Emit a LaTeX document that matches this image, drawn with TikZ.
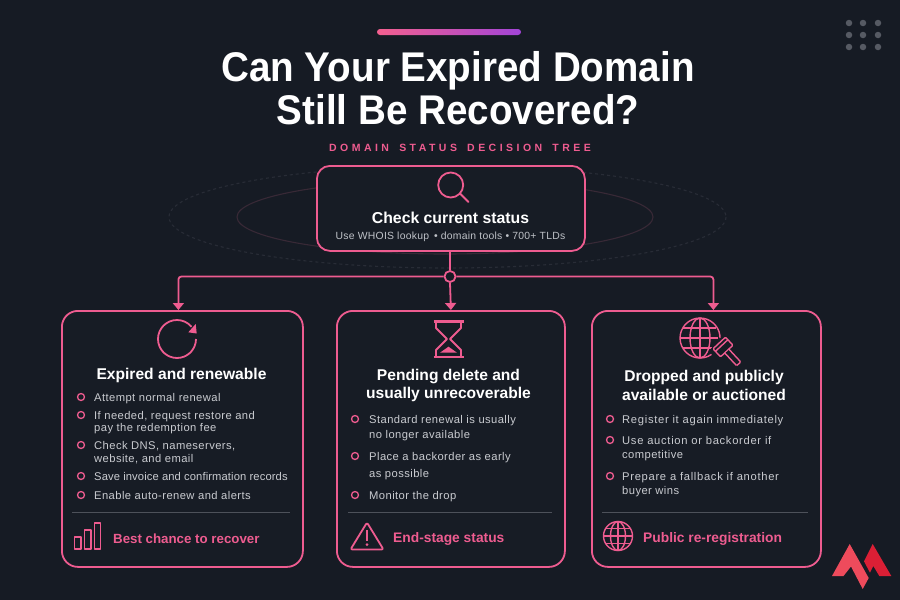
\documentclass[tikz,border=0pt]{standalone}
\usepackage{fontspec}
\usetikzlibrary{arrows.meta,calc,shapes.geometric}
\setmainfont{Liberation Sans}
\newfontfamily\titlef[FakeStretch=0.93]{Liberation Sans}
\newfontfamily\bodyf[LetterSpace=3.8]{Liberation Sans}
\newfontfamily\bodyr[LetterSpace=6.2]{Liberation Sans}
\newfontfamily\bodys[LetterSpace=1]{Liberation Sans}
\newfontfamily\topf[LetterSpace=2.5]{Liberation Sans}
\newfontfamily\subf[LetterSpace=33,WordSpace=1.6]{Liberation Sans}
\definecolor{bgc}{HTML}{161B24}
\definecolor{cardc}{HTML}{171C25}
\definecolor{pinkc}{HTML}{EE5C90}
\definecolor{bodyc}{HTML}{C9CBD0}
\definecolor{subc}{HTML}{BFC2C8}
\definecolor{divc}{HTML}{4D515A}
\definecolor{dotc}{HTML}{565A63}
\definecolor{ringa}{HTML}{282C36}
\definecolor{ringb}{HTML}{382936}
\definecolor{logoa}{HTML}{EE4B5C}
\definecolor{logob}{HTML}{DB1F35}
\definecolor{barl}{HTML}{F4608F}
\definecolor{barr}{HTML}{A244D8}
\newcommand{\st}{\rule{0pt}{9pt}}
\tikzset{
  x=1pt,y=-1pt,
  card/.style={draw=pinkc,line width=1.8pt,fill=cardc,rounded corners=16pt,inner sep=0,anchor=north west},
  conn/.style={draw=pinkc,line width=1.8pt},
  arr/.style={conn,-{Triangle[width=11pt,length=7pt]}},
  ico/.style={draw=pinkc,line width=1.8pt,line join=round},
  head/.style={text=white,inner sep=0,align=center,font=\bfseries\fontsize{15.6}{18.5}\selectfont},
  foot/.style={text=pinkc,inner sep=0,anchor=west,font=\bfseries\fontsize{#1}{15}\selectfont},
  bul/.style={circle,draw=pinkc,line width=1.3pt,minimum size=7pt,inner sep=0},
  bt/.style={anchor=north west,inner sep=0,align=left,text=bodyc,font=\bodyf\fontsize{11.2}{#1}\selectfont},
  divl/.style={draw=divc,line width=0.9pt},
}
\begin{document}
\begin{tikzpicture}
\useasboundingbox (0,0) rectangle (900,600);
\fill[bgc] (0,0) rectangle (900,600);
% header
\node[rounded corners=3pt,left color=barl,right color=barr,minimum width=144pt,minimum height=6pt,inner sep=0] (bar) at (449,32) {};
\foreach \dx/\nx in {849/a,863/b,878/c}\foreach \dy/\ny in {23/a,35/b,47/c}{
  \node[circle,fill=dotc,minimum size=6.5pt,inner sep=0] (dot\nx\ny) at (\dx,\dy) {};
}
\node[anchor=north,inner sep=0,align=center,text=white,font=\titlef\bfseries\fontsize{41.5}{43}\selectfont] (title) at (458,51.5) {\rule{0pt}{30pt}Can Your Expired Domain\\Still Be Recovered?};
\node[text=pinkc,inner sep=0,font=\subf\bfseries\fontsize{10.5}{12}\selectfont] (sub) at (460,147.5) {DOMAIN STATUS DECISION TREE};
% rings
\draw[ringa,line width=1.1pt,dash pattern=on 3pt off 3pt] (447.5,217) ellipse [x radius=278.5,y radius=51];
\draw[ringb,line width=1.1pt] (445,217) ellipse [x radius=208,y radius=37];
% top node
\node[card,rounded corners=13pt,minimum width=268pt,minimum height=85pt] (top) at (316,165) {};
\draw[ico] (450.7,185) circle (12.5);
\draw[ico,line cap=round] (460,193.5) -- (468.5,202);
\node[text=white,inner sep=0,font=\bfseries\fontsize{15.8}{18}\selectfont] (toph) at (450.5,217.5) {Check current status};
\node[text=subc,inner sep=0,font=\topf\fontsize{10.4}{13}\selectfont] (tops) at (450.5,236.5) {Use WHOIS lookup\, • domain tools • 700+ TLDs};
% cards
\node[card,minimum width=241pt,minimum height=256pt] (c1) at (61,310) {};
\node[card,minimum width=228pt,minimum height=256pt] (c2) at (336,310) {};
\node[card,minimum width=229pt,minimum height=256pt] (c3) at (591,310) {};
% connectors
\node[circle,draw=pinkc,line width=1.8pt,fill=bgc,minimum size=11pt,inner sep=0] (jn) at (450,276.5) {};
\draw[conn] (top.south -| jn) -- (jn.north);
\draw[arr,rounded corners=3pt] (jn.west) -| ([xshift=-4pt]c1.north);
\draw[arr] (jn.south) -- (c2.north);
\draw[arr,rounded corners=3pt] (jn.east) -| ([xshift=7pt]c3.north);
% card 1
\draw[ico] (196,339) arc[start angle=0,end angle=320,radius=19];
\fill[pinkc] (196.7,333.5) -- (188.3,332.3) -- (195.7,324) -- cycle;
\node[head] (h1) at (181.5,375.5) {Expired and renewable};
\node[bul] (b11) at (81,397) {};
\node[bt=12.5] (t11) at (94,392) {\st Attempt normal renewal};
\node[bul] (b12) at (81,415) {};
\node[bt=12.5] (t12) at (94,410) {\st If needed, request restore and\\pay the redemption fee};
\node[bul] (b13) at (81,445) {};
\node[bt=12.5] (t13) at (94,440.5) {\st Check DNS, nameservers,\\website, and email};
\node[bul] (b14) at (81,476) {};
\node[bt=12.5] (t14) at (94,471) {\bodys\st Save invoice and confirmation records};
\node[bul] (b15) at (81,495) {};
\node[bt=12.5] (t15) at (94,490) {\st Enable auto-renew and alerts};
\draw[divl] (72,512) -- (290,512);
\draw[ico,line width=1.4pt] (74.5,537) rectangle (81,549) (84.5,530) rectangle (91,549) (94.5,523) rectangle (100.5,549);
\node[foot=13.3] (f1) at (113,538.5) {Best chance to recover};
% card 2
\draw[ico,line width=2.4pt] (433.5,321.5) -- (464,321.5) (433.5,357) -- (464,357);
\draw[ico] (436,322) -- (436,328) -- (447,339) -- (436,350) -- (436,357) (461,322) -- (461,328) -- (450,339) -- (461,350) -- (461,357);
\fill[pinkc] (448.5,346.7) -- (440,352.7) -- (457,352.7) -- cycle;
\node[head] (h2) at (448.5,385.3) {Pending delete and\\usually unrecoverable};
\node[bul] (b21) at (355,419) {};
\node[bt=15] (t21) at (369,414) {\st Standard renewal is usually\\no longer available};
\node[bul] (b22) at (355,456) {};
\node[bt=17.5] (t22) at (369,451) {\st Place a backorder as early\\as possible};
\node[bul] (b23) at (355,495) {};
\node[bt=15] (t23) at (369,490) {\st Monitor the drop};
\draw[divl] (348,512) -- (552,512);
\draw[ico,rounded corners=2pt] (367,522.5) -- (383.5,549.5) -- (350.5,549.5) -- cycle;
\draw[ico,line width=2.2pt] (367,530) -- (367,540.5);
\fill[pinkc] (367,544.5) circle (1.5);
\node[foot=13.8] (f2) at (393,538.5) {End-stage status};
% card 3
\begin{scope}[ico,line width=1.4pt]
\draw (711.5,354.4) arc[start angle=55,end angle=360,radius=20];
\draw (700,318) -- (700,358) (680,338) -- (718,338);
\draw (683,328) -- (716,328) (683,348) -- (712,348);
\draw (700,338) ellipse [x radius=10,y radius=20];
\end{scope}
\begin{scope}[shift={(723,347)},rotate=43,ico,line width=1.4pt]
\fill[cardc] (-10,-7) rectangle (10,7);
\draw[rounded corners=1pt] (-8.5,-5.5) rectangle (8.5,5.5);
\draw (-8.5,-2) -- (8.5,-2);
\end{scope}
\begin{scope}[shift={(723,347)},rotate=-47,ico,line width=1.4pt]
\fill[cardc] (6.2,-2.8) rectangle (23,2.8);
\draw[rounded corners=1pt] (5.5,-2.8) -- (23,-2.8) -- (23,2.8) -- (5.5,2.8);
\end{scope}
\node[head] (h3) at (704,385.3) {Dropped and publicly\\available or auctioned};
\node[bul] (b31) at (610,419) {};
\node[bt=14.5] (t31) at (622,414) {\bodyr\st Register it again immediately};
\node[bul] (b32) at (610,440) {};
\node[bt=14.5] (t32) at (622,435) {\bodyr\st Use auction or backorder if\\competitive};
\node[bul] (b33) at (610,476) {};
\node[bt=14.5] (t33) at (622,471) {\bodyr\st Prepare a fallback if another\\buyer wins};
\draw[divl] (602,512) -- (808,512);
\begin{scope}[ico,line width=1.4pt]
\draw (618,536) circle (14.5);
\draw (618,521.5) -- (618,550.5) (603.5,536) -- (632.5,536);
\draw (606,528.5) -- (630,528.5) (606,543.5) -- (630,543.5);
\draw (618,536) ellipse [x radius=7.5,y radius=14.5];
\end{scope}
\node[foot=13.8] (f3) at (643,538.5) {Public re-registration};
% logo
\fill[logob] (872.7,544) -- (891.3,576) -- (879.3,576) -- (873.3,566) -- (870,572.7) -- (864,561.3) -- cycle;
\fill[logoa] (849.7,544) -- (868.7,578) -- (862.7,589) -- (851,566.5) -- (843.5,576) -- (832,576) -- cycle;
\end{tikzpicture}
\end{document}
